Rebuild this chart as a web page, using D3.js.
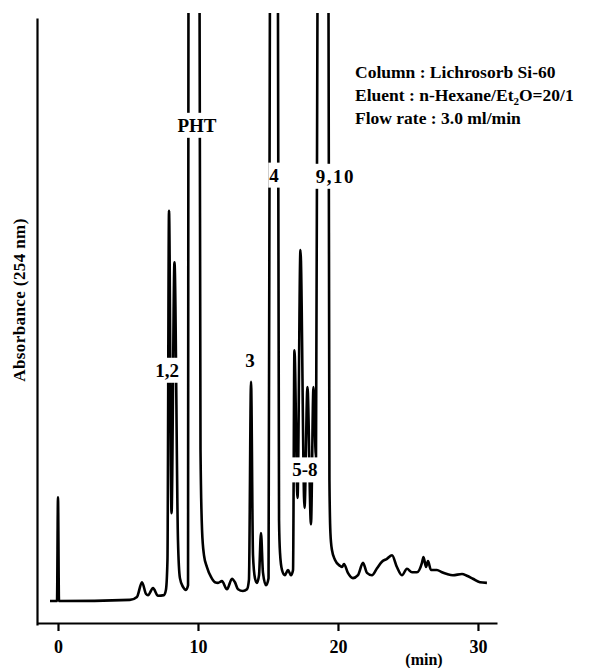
<!DOCTYPE html>
<html>
<head>
<meta charset="utf-8">
<script src="https://cdn.jsdelivr.net/npm/d3@7"></script>
<style>
  html, body { margin: 0; padding: 0; background: #fff; }
  svg { display: block; }
  text { font-family: "Liberation Serif", "DejaVu Serif", serif; font-weight: bold; fill: #000; }
</style>
</head>
<body>
<svg width="593" height="668"></svg>
<script>
// retention time (min) and detector response (arbitrary units, 100 = top of the chart)
const times = [
  -0.57, -0.07, 0, 0.07, 5.14, 5.64, 6.0, 6.29, 6.43, 6.79, 7.14, 7.57, 7.71, 7.82,
  7.93, 8.11, 8.32, 8.57, 8.71, 8.93, 9.14, 9.29,
  9.32, 9.71, 10.11,
  10.18, 10.29, 10.43, 10.64, 10.93, 11.21, 11.43, 11.71, 12.07, 12.43, 12.64, 12.86,
  13.21, 13.5, 13.64, 13.79, 13.93, 14.07, 14.21, 14.36, 14.5, 14.64, 14.86, 15.04,
  15.14, 15.43, 15.71,
  15.79, 15.86, 16.0, 16.21, 16.43, 16.64, 16.79, 16.89, 17.11, 17.32, 17.61, 17.82,
  18.07, 18.25, 18.43,
  18.54, 18.89, 19.32,
  19.39, 19.46, 19.57, 19.79, 20.14, 20.29, 20.43, 20.71, 21.07, 21.43, 21.79, 22.07,
  22.43, 22.79, 23.14, 23.5, 23.86, 24.21, 24.57, 24.93, 25.29, 25.64, 26.0, 26.11,
  26.29, 26.43, 26.64, 27.07, 27.43, 27.79, 28.21, 28.86, 29.21, 29.64, 30.14, 30.64
];
const absorbance = [
  0, 0, 17.7, 0, 0.2, 0.7, 3.2, 1.2, 1.0, 2.2, 0.9, 1.0, 1.9, 7.0,
  66.6, 15.0, 57.8, 10.4, 3.9, 2.4, 1.9, 2.7,
  105, 160, 105,
  25.8, 12.1, 7.8, 5.8, 4.1, 3.2, 3.1, 3.4, 2.0, 3.8, 3.2, 2.0,
  1.7, 2.0, 3.6, 37.4, 7.8, 3.9, 3.1, 4.4, 11.6, 4.9, 2.7, 3.9,
  105, 160, 105,
  13.8, 8.2, 5.3, 4.4, 5.3, 4.4, 5.3, 42.8, 17.6, 59.9, 15.9, 36.5,
  13.1, 36.5, 24.4,
  105, 160, 105,
  20.6, 11.6, 8.7, 7.0, 6.0, 5.8, 6.3, 4.8, 3.9, 4.4, 6.5, 4.8,
  4.4, 5.6, 6.7, 7.2, 7.8, 5.8, 4.4, 5.5, 4.9, 4.9, 6.5, 7.5,
  5.8, 6.8, 5.3, 5.3, 4.9, 4.6, 4.4, 4.6, 4.3, 3.8, 3.2, 3.1
];
const tickTimes = [0, 10, 20, 30];
const peakLabels = ["1,2", "PHT", "3", "4", "5-8", "9,10"];
const peakLabelTimes = [7.79, 9.93, 13.71, 15.43, 17.64, 19.81];
const peakLabelLevels = [39.4, 81.2, 41.1, 72.7, 22.4, 72.5];
const conditions = ["Column : Lichrosorb Si-60", "Eluent : n-Hexane/Et", "Flow rate : 3.0 ml/min"];

const svg = d3.select("svg");

const x = d3.scaleLinear().domain([-1.5, 31.36]).range([37, 497]);
const y = d3.scaleLinear().domain([0, 100]).range([601, 15]);
const yFrame = d3.scaleLinear().domain([0, 1]).range([625, 18]);

svg.append("defs").append("clipPath").attr("id", "plot-clip")
  .append("rect").attr("x", 0).attr("y", 13).attr("width", 593).attr("height", 655);

// axes
svg.append("g")
  .attr("transform", "translate(0,623)")
  .call(d3.axisBottom(x).tickValues(tickTimes).tickSize(8).tickSizeOuter(0).tickPadding(9))
  .call(g => g.select(".domain").attr("stroke-width", 2.2))
  .call(g => g.selectAll(".tick line").attr("stroke-width", 2.2))
  .call(g => g.selectAll(".tick text")
    .attr("font-family", "'Liberation Serif', serif")
    .attr("font-weight", "bold")
    .attr("font-size", 18));

svg.append("g")
  .attr("transform", "translate(37,0)")
  .call(d3.axisLeft(yFrame).tickValues([]).tickSizeOuter(0))
  .call(g => g.select(".domain").attr("stroke-width", 2.2));

// trace
const trace = d3.zip(times, absorbance);
svg.append("path")
  .datum(trace)
  .attr("clip-path", "url(#plot-clip)")
  .attr("fill", "none")
  .attr("stroke", "#000")
  .attr("stroke-width", 2.6)
  .attr("stroke-linejoin", "round")
  .attr("d", d3.line().x(d => x(d[0])).y(d => y(d[1])).curve(d3.curveMonotoneX));

// peak labels on white patches that cut the trace
const labelGroup = svg.append("g");
peakLabels.forEach((label, i) => {
  const g = labelGroup.append("g")
    .attr("transform", `translate(${x(peakLabelTimes[i])},${y(peakLabelLevels[i])})`);
  const bg = g.append("rect").attr("fill", "#fff");
  const t = g.append("text")
    .attr("text-anchor", "middle")
    .attr("dy", "0.35em")
    .attr("font-size", 19)
    .attr("letter-spacing", label === "9,10" ? 1.5 : 0)
    .text(label);
  const b = t.node().getBBox();
  bg.attr("x", b.x - 1).attr("y", b.y - 2).attr("width", b.width + 2).attr("height", b.height + 4);
});

// y label
svg.append("text")
  .attr("transform", "translate(25,300) rotate(-90)")
  .attr("text-anchor", "middle")
  .attr("font-size", 17)
  .attr("letter-spacing", 0.4)
  .text("Absorbance (254 nm)");

// x unit
svg.append("text")
  .attr("x", 424)
  .attr("y", 665)
  .attr("text-anchor", "middle")
  .attr("font-size", 16)
  .text("(min)");

// conditions
const info = svg.append("g").attr("font-size", 17.5);
conditions.forEach((line, i) => {
  const t = info.append("text").attr("x", 355).attr("y", 78 + i * 23).text(line);
  if (i === 1) {
    t.append("tspan").attr("font-size", 11).attr("dy", 4).text("2");
    t.append("tspan").attr("dy", -4).text("O=20/1");
  }
});
</script>
</body>
</html>
